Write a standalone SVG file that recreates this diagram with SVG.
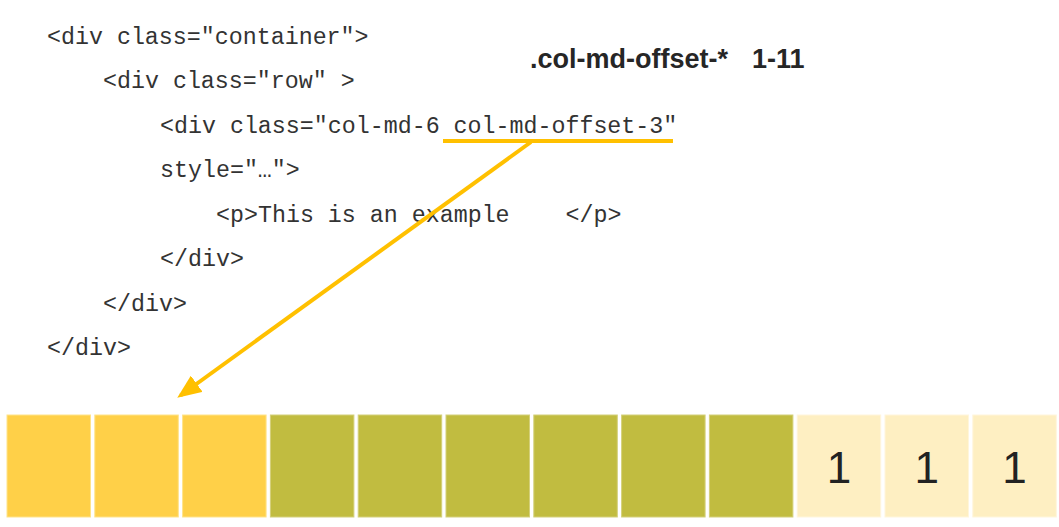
<svg xmlns="http://www.w3.org/2000/svg" width="1059" height="527" viewBox="0 0 1059 527">
<style>
.code{font-family:"Liberation Mono","DejaVu Sans Mono",monospace;font-size:23.3px;fill:#333;white-space:pre}
.title{font-family:"Liberation Sans",Arial,sans-serif;font-size:27px;font-weight:bold;fill:#262626}
.num{font-family:"Liberation Sans",Arial,sans-serif;font-size:44px;fill:#222;text-anchor:middle}
.y{fill:#FFD048;stroke:#FFE38A;stroke-width:1}
.o{fill:#C1BC40;stroke:#D4D07A;stroke-width:1}
.l{fill:#FEEFC2;stroke:#FFF6DC;stroke-width:1}
.conn{stroke:#FFC000;stroke-width:4;fill:none}
</style>
<defs>
<marker id="ah" markerWidth="6" markerHeight="5" refX="5" refY="2.5" orient="auto" markerUnits="strokeWidth">
<path d="M0,0 L6,2.5 L0,5 Z" fill="#FFC000"/>
</marker>
</defs>
<rect width="1059" height="527" fill="#fff"/>
<g id="code">
<text class="code" x="47" y="44">&lt;div class=″container″&gt;</text>
<text class="code" x="103" y="88">&lt;div class=″row″ &gt;</text>
<text class="code" x="160" y="133">&lt;div class=″col-md-6 col-md-offset-3″</text>
<text class="code" x="160" y="177">style=″…″&gt;</text>
<text class="code" x="216" y="222">&lt;p&gt;This is an example    &lt;/p&gt;</text>
<text class="code" x="160" y="266">&lt;/div&gt;</text>
<text class="code" x="103" y="311">&lt;/div&gt;</text>
<text class="code" x="47" y="355">&lt;/div&gt;</text>
</g>
<g id="title">
<text class="title" x="530" y="68">.col-md-offset-*</text>
<text class="title" x="752" y="68">1-11</text>
</g>
<g id="connectors">
<line class="conn" x1="443" y1="141" x2="673" y2="141" stroke-width="3"/>
<line class="conn" x1="531" y1="142" x2="180.5" y2="395.5" marker-end="url(#ah)"/>
</g>
<g id="grid">
<rect class="y" x="7" y="415" width="83.5" height="102"/>
<rect class="y" x="94.8" y="415" width="83.5" height="102"/>
<rect class="y" x="182.6" y="415" width="83.5" height="102"/>
<rect class="o" x="270.4" y="415" width="83.5" height="102"/>
<rect class="o" x="358.2" y="415" width="83.5" height="102"/>
<rect class="o" x="446" y="415" width="83.5" height="102"/>
<rect class="o" x="533.8" y="415" width="83.5" height="102"/>
<rect class="o" x="621.6" y="415" width="83.5" height="102"/>
<rect class="o" x="709.4" y="415" width="83.5" height="102"/>
<g id="c10"><rect class="l" x="797.2" y="415" width="83.5" height="102"/><text class="num" x="839" y="483">1</text></g>
<g id="c11"><rect class="l" x="885" y="415" width="83.5" height="102"/><text class="num" x="926.7" y="483">1</text></g>
<g id="c12"><rect class="l" x="972.8" y="415" width="83.5" height="102"/><text class="num" x="1014.5" y="483">1</text></g>
</g>
</svg>
